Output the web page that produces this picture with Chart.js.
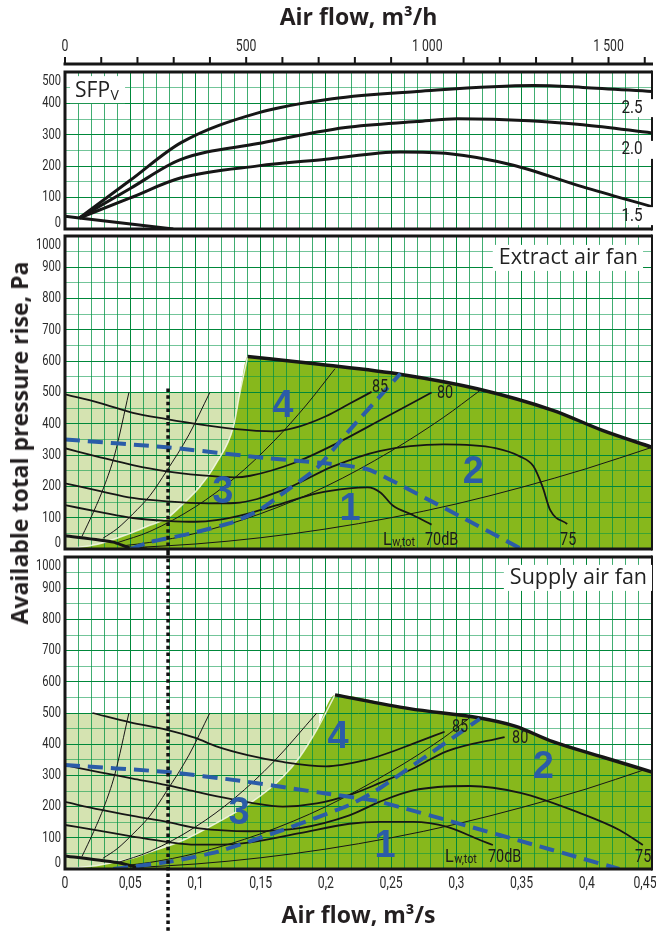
<!DOCTYPE html>
<html lang="en">
<head>
<meta charset="utf-8">
<title>Fan performance chart</title>
<script src="https://cdn.jsdelivr.net/npm/chart.js@4.4.1/dist/chart.umd.min.js"></script>
<style>
 html,body{margin:0;padding:0;background:#fff;}
 #wrap{position:relative;width:656px;height:931px;overflow:hidden;background:#fff;}
 #wrap canvas{position:absolute;left:0;}
 #ytitle{position:absolute;left:19px;top:443px;transform:translate(-50%,-50%) rotate(-90deg);white-space:nowrap;font:700 23px "Open Sans","Noto Sans",sans-serif;color:#231f20;}
</style>
</head>
<body>
<div id="wrap">
 <canvas id="cSfp" width="656" height="232" style="top:0px;width:656px;height:232px"></canvas>
 <canvas id="cExt" width="656" height="320" style="top:232px;width:656px;height:320px"></canvas>
 <canvas id="cSup" width="656" height="379" style="top:552px;width:656px;height:379px"></canvas>
 <div id="ytitle">Available total pressure rise, Pa</div>
</div>
<script>
// ---------------- axes / tick labels ----------------
const X_MAX = 0.45;                       // m3/s
const xTicksM3s  = [0,0.05,0.1,0.15,0.2,0.25,0.3,0.35,0.4,0.45];
const xLabelsM3s = ['0','0,05','0,1','0,15','0,2','0,25','0,3','0,35','0,4','0,45'];
const xTicksM3h  = [0,500,1000,1500];
const xLabelsM3h = ['0','500','1 000','1 500'];
const yTicksSfp  = [0,100,200,300,400,500];
const yTicksFan  = [0,100,200,300,400,500,600,700,800,900,1000];

// ---------------- SFPv panel (x m3/s, y Pa) ----------------
const sfpBase = [[0,41],[0.011,35],[0.083,0]];
const sfp15 = [[0.011,35],[0.05,99],[0.089,163],[0.148,201],[0.2,222],[0.257,245],[0.295,240],[0.343,204],[0.397,134],[0.45,71]];
const sfp20 = [[0.011,35],[0.05,129],[0.088,220],[0.148,272],[0.215,323],[0.27,342],[0.301,351],[0.356,345],[0.397,332],[0.45,306]];
const sfp25 = [[0.011,35],[0.05,155],[0.089,275],[0.148,370],[0.205,415],[0.27,438],[0.359,457],[0.397,451],[0.45,438]];

// ---------------- Extract air fan ----------------
const extMaxCurve = [[0.14,615],[0.195,590],[0.259,557],[0.316,512],[0.374,443],[0.412,379],[0.45,325]];
const extWorkEdge = [[0,0],[0.025,15],[0.05,50],[0.065,76],[0.078,98],[0.091,146],[0.103,197],[0.116,274],[0.129,389],[0.134,497],[0.14,615]];
const extLowRange = [[0,500],[0.134,500]];
const extBase = [[0,42],[0.037,22],[0.05,3],[0.063,0]];
const sysK1 = [[0.013,40],[0.022,120],[0.03,200],[0.038,300],[0.049,500]];
const sysK2 = [[0.029,34],[0.04,65],[0.052,112],[0.065,170],[0.078,250],[0.095,365],[0.111,500]];
const extSysK3 = [[0.04,20],[0.065,56],[0.1,135],[0.13,227],[0.16,344],[0.185,460],[0.207,576]];
const extSysK4 = [[0.046,11],[0.065,21],[0.1,50],[0.15,113],[0.2,200],[0.25,313],[0.29,420],[0.318,506]];
const extSysK5 = [[0.055,5],[0.1,16],[0.15,36],[0.2,64],[0.25,100],[0.3,144],[0.35,197],[0.4,257],[0.45,325]];
const extLw85 = [[0,494],[0.027,466],[0.052,435],[0.078,415],[0.103,398],[0.129,384],[0.16,376],[0.18,392],[0.2,424],[0.218,464],[0.235,502]];
const extLw80 = [[0,322],[0.027,293],[0.052,268],[0.078,248],[0.103,236],[0.13,229],[0.142,234],[0.175,274],[0.208,337],[0.244,417],[0.281,500]];
const extLw75 = [[0,210],[0.027,185],[0.052,163],[0.078,152],[0.11,146],[0.13,147],[0.167,188],[0.205,263],[0.241,313],[0.29,334],[0.33,322],[0.349,295],[0.359,265],[0.366,200],[0.372,124],[0.385,80]];
const extLw70 = [[0,140],[0.027,118],[0.052,99],[0.078,90],[0.1,87],[0.116,92],[0.142,115],[0.167,146],[0.193,178],[0.218,194],[0.232,197],[0.242,180],[0.251,140],[0.267,108],[0.281,78]];
const extLimitA = [[0,350],[0.078,325],[0.155,290],[0.2,274],[0.234,252],[0.35,0]];
const extLimitB = [[0.05,0],[0.065,22],[0.098,51],[0.129,86],[0.149,124],[0.167,178],[0.193,258],[0.218,379],[0.257,560]];

// ---------------- Supply air fan ----------------
const supMaxCurve = [[0.207,558],[0.264,514],[0.318,484],[0.345,458],[0.374,408],[0.412,359],[0.45,311]];
const supWorkEdge = [[0,0],[0.027,13],[0.052,35],[0.065,54],[0.091,93],[0.116,147],[0.142,211],[0.167,295],[0.18,359],[0.193,446],[0.207,558]];
const supLowRange = [[0,500],[0.195,500]];
const supBase = [[0,42],[0.042,19],[0.06,0]];
const supSysK3 = [[0.04,20],[0.065,56],[0.1,135],[0.13,227],[0.16,344],[0.193,500]];
const supSysK4 = [[0.046,11],[0.065,21],[0.1,50],[0.15,113],[0.2,200],[0.25,313],[0.29,420],[0.31,484]];
const supSysK5 = [[0.055,5],[0.1,16],[0.15,36],[0.2,64],[0.25,100],[0.3,144],[0.35,197],[0.4,257],[0.444,318]];
const supLw85 = [[0.021,500],[0.05,470],[0.078,446],[0.1,420],[0.116,393],[0.14,365],[0.167,343],[0.2,329],[0.231,350],[0.25,375],[0.267,402],[0.291,440]];
const supLw80 = [[0,333],[0.027,310],[0.052,290],[0.078,269],[0.1,248],[0.142,213],[0.167,200],[0.193,210],[0.22,240],[0.241,275],[0.267,322],[0.293,378],[0.337,423]];
const supLw75 = [[0,215],[0.027,190],[0.052,170],[0.078,151],[0.103,130],[0.142,121],[0.18,131],[0.218,172],[0.241,215],[0.267,252],[0.31,266],[0.349,244],[0.395,179],[0.425,125],[0.443,77]];
const supLw70 = [[0,141],[0.027,122],[0.052,104],[0.078,87],[0.1,78],[0.12,78],[0.142,85],[0.18,115],[0.218,145],[0.241,151],[0.267,151],[0.293,135],[0.318,93],[0.328,77]];
const supLimitA = [[0,333],[0.078,311],[0.134,283],[0.2,242],[0.241,216],[0.425,0]];
const supLimitB = [[0.037,0],[0.078,22],[0.116,54],[0.167,125],[0.218,205],[0.241,258],[0.318,481]];

// ---------------- annotations (data coordinates) ----------------
const dutyFlow = 0.079, dutyTopPa = 513;
const sfpNotes = [{t:'2.5',x:0.4347,y:385},{t:'2.0',x:0.4347,y:252},{t:'1.5',x:0.4347,y:41}];
const extZones = [{t:'4',x:0.167,y:454},{t:'3',x:0.121,y:182},{t:'1',x:0.2186,y:125},{t:'2',x:0.313,y:243}];
const supZones = [{t:'4',x:0.2094,y:420},{t:'3',x:0.1334,y:179},{t:'1',x:0.2454,y:71},{t:'2',x:0.3666,y:324}];
const extLwNotes = [{t:'85',x:0.2353,y:502},{t:'80',x:0.2852,y:482},{t:'70dB',x:0.276,y:13},{t:'75',x:0.3795,y:13}];
const supLwNotes = [{t:'85',x:0.2967,y:439},{t:'80',x:0.3427,y:404},{t:'70dB',x:0.3243,y:22},{t:'75',x:0.437,y:22}];
const extLwTot = {x:0.2438,y:13}, supLwTot = {x:0.2913,y:22};
const extTitle = {t:'Extract air fan',x:0.4393,y:930}, supTitle = {t:'Supply air fan',x:0.4462,y:933};

// ---------------- styling ----------------
const C_INK='#161616', C_BLUE='#2b5ca8', C_DARK='#87b81c', C_PALE='#d5e3b1';
const G_MAIN='rgb(0,135,58)', G_SOFT='rgba(0,145,65,0.75)', G_HALF='rgba(0,150,70,0.55)';
const F_NUM='"Roboto","Liberation Sans",sans-serif';
const F_TXT='"Open Sans","Noto Sans",sans-serif';
const F_BOLD='"Liberation Sans","Arimo",Arial,sans-serif';

const pts = a => a.map(p => ({x:p[0], y:p[1]}));
function ds(arr, o){
  return Object.assign({data:pts(arr), borderColor:C_INK, borderWidth:1.8, pointRadius:0, pointHoverRadius:0,
    fill:false, cubicInterpolationMode:'monotone', order:5, borderCapStyle:'butt', borderJoinStyle:'round'}, o||{});
}
const dashed = (arr) => ds(arr,{borderColor:C_BLUE, borderWidth:4, borderDash:[15,8], cubicInterpolationMode:'default', tension:0.15, order:1});
const thin = (arr) => ds(arr,{borderWidth:1, order:4});
const lw = (arr) => ds(arr,{borderWidth:1.8, order:3});
const fillDs = (arr, col, ord) => ds(arr,{borderColor:'rgba(0,0,0,0)', borderWidth:0, fill:'origin', backgroundColor:col, order:ord, cubicInterpolationMode:'monotone'});

function drawText(ctx, s, x, y, o){
  o = Object.assign({size:15, weight:'400', family:F_NUM, align:'center', base:'middle', sx:1, color:C_INK}, o||{});
  ctx.save(); ctx.translate(x,y); ctx.scale(o.sx,1);
  ctx.font = o.weight+' '+o.size+'px '+o.family;
  ctx.textAlign=o.align; ctx.textBaseline=o.base; ctx.fillStyle=o.color;
  ctx.fillText(s,0,0);
  const w = ctx.measureText(s).width*o.sx;
  ctx.restore();
  return w;
}
function textWidth(ctx, s, o){
  ctx.save(); ctx.font=(o.weight||'400')+' '+o.size+'px '+(o.family||F_NUM);
  const w = ctx.measureText(s).width*(o.sx||1); ctx.restore(); return w;
}
const clamp=(v,a,b)=>Math.max(a,Math.min(b,v));

function deco(opt){
  return {
    id:'deco',
    afterDraw(chart){
      const ctx=chart.ctx, a=chart.chartArea, xs=chart.scales.x, ys=chart.scales.y;
      const X=v=>xs.getPixelForValue(v), Y=v=>ys.getPixelForValue(v);
      ctx.save(); ctx.strokeStyle=C_INK; ctx.lineWidth=3;
      ctx.beginPath(); ctx.moveTo(a.right,a.top); ctx.lineTo(a.left,a.top); ctx.lineTo(a.left,a.bottom); ctx.lineTo(a.right,a.bottom); ctx.stroke();
      ctx.lineWidth=2; ctx.beginPath(); ctx.moveTo(a.right,a.top-1.5); ctx.lineTo(a.right,a.bottom+1.5); ctx.stroke();
      ctx.restore();
      opt.yTicks.forEach(v=>{
        drawText(ctx,String(v),61,clamp(Y(v),a.top+9,a.bottom-6),{size:15.5,sx:0.72,align:'right',color:'#2a2a2a'});
      });
      opt.extra(chart,ctx,a,X,Y);
    }
  };
}

function whiteBoxText(ctx, s, x, y, o, padL, padR, halfH){
  const w = textWidth(ctx,s,o);
  let left = o.align==='right' ? x-w : (o.align==='center'? x-w/2 : x);
  ctx.save(); ctx.fillStyle='#fff'; ctx.fillRect(left-padL, y-halfH, w+padL+padR, halfH*2); ctx.restore();
  drawText(ctx,s,x,y,o);
}

function dotted(ctx, x, y0, y1){
  ctx.save(); ctx.strokeStyle='#111'; ctx.lineWidth=3.5; ctx.setLineDash([3.5,3.2]);
  ctx.beginPath(); ctx.moveTo(x,y0); ctx.lineTo(x,y1); ctx.stroke(); ctx.restore();
}

function fanExtra(zones, notes, lwTot, title, dottedFromTop){
  return (chart,ctx,a,X,Y)=>{
    whiteBoxText(ctx,title.t,X(title.x),Y(title.y),{size:21.5,family:F_TXT,align:'right',color:'#222'},6,5,13);
    zones.forEach(z=>drawText(ctx,z.t,X(z.x),Y(z.y),{size:38,weight:'700',family:F_BOLD,color:C_BLUE}));
    notes.forEach(n=>drawText(ctx,n.t,X(n.x),Y(n.y),{size:18,sx:0.8,align:'left',base:'alphabetic',color:'#1c1c1c'}));
    const lx=X(lwTot.x), ly=Y(lwTot.y);
    const wL=drawText(ctx,'L',lx,ly,{size:19,sx:0.85,align:'left',base:'alphabetic',color:'#1c1c1c'});
    drawText(ctx,'w,tot',lx+wL+0.5,ly+1,{size:12,sx:0.9,align:'left',base:'alphabetic',color:'#1c1c1c'});
    const dx=X(dutyFlow);
    dotted(ctx,dx,dottedFromTop?0:Y(dutyTopPa),chart.height);
  };
}

function makePanel(id, o){
  return new Chart(document.getElementById(id),{
    type:'line',
    data:{datasets:o.datasets},
    options:{
      responsive:false, animation:false, devicePixelRatio:1, events:[],
      layout:{padding:{left:65,right:4,top:o.padTop,bottom:o.padBottom}},
      plugins:{legend:{display:false},tooltip:{enabled:false},filler:{propagate:false,drawTime:'beforeDraw'}},
      scales:{
        x:{type:'linear',min:0,max:X_MAX,
           ticks:{display:false,stepSize:0.01,autoSkip:false},
           grid:{drawTicks:false,
                 color:c=>{const k=Math.round(c.tick.value*100); return k%5===0?G_MAIN:G_SOFT;},
                 lineWidth:1},
           border:{display:false}, afterFit:s=>{s.height=0;}},
        y:{type:'linear',min:0,max:o.yMax,
           ticks:{display:false,stepSize:50},
           grid:{drawTicks:false,
                 color:c=>(Math.round(c.tick.value)%100===0?G_MAIN:G_HALF),
                 lineWidth:1},
           border:{display:false}, afterFit:s=>{s.width=0;}}
      }
    },
    plugins:[deco(o)]
  });
}

// ---------- SFP panel ----------
makePanel('cSfp',{
  yMax:500, padTop:72, padBottom:3, yTicks:yTicksSfp,
  datasets:[
    ds(sfp25,{borderWidth:3}), ds(sfp20,{borderWidth:3}), ds(sfp15,{borderWidth:3}),
    ds(sfpBase,{borderWidth:3,cubicInterpolationMode:'default',tension:0})
  ],
  extra:(chart,ctx,a,X,Y)=>{
    drawText(ctx,'Air flow, m³/h',(a.left+a.right)/2,18,{size:23,weight:'700',family:F_TXT,color:'#231f20'});
    const axY=64;
    ctx.save(); ctx.strokeStyle=C_INK; ctx.lineWidth=3;
    ctx.beginPath(); ctx.moveTo(a.left-1.5,axY); ctx.lineTo(a.right+1,axY); ctx.stroke();
    ctx.lineWidth=2;
    for(let h=0; h<=1600; h+=100){ const px=X(h/3600); ctx.beginPath(); ctx.moveTo(px,axY); ctx.lineTo(px,axY-7); ctx.stroke(); }
    ctx.restore();
    xTicksM3h.forEach((h,i)=>drawText(ctx,xLabelsM3h[i],X(h/3600),47,{size:17,sx:0.72,color:'#2a2a2a'}));
    const sx=X(0.0077), sy=Y(420);
    ctx.save(); ctx.fillStyle='#fff'; ctx.fillRect(sx-5,sy-21,55,27); ctx.restore();
    const w=drawText(ctx,'SFP',sx,sy,{size:21,family:F_TXT,align:'left',base:'alphabetic',color:'#222'});
    drawText(ctx,'V',sx+w+0.5,sy+3,{size:14,family:F_TXT,align:'left',base:'alphabetic',color:'#222'});
    sfpNotes.forEach(n=>whiteBoxText(ctx,n.t,X(n.x),Y(n.y),{size:18,sx:0.85,color:'#1c1c1c'},3,3,9));
  }
});

// ---------- Extract panel ----------
makePanel('cExt',{
  yMax:1000, padTop:4, padBottom:3, yTicks:yTicksFan,
  datasets:[
    dashed(extLimitA), dashed(extLimitB),
    ds(extMaxCurve,{borderWidth:3.5,order:2}),
    lw(extLw85), lw(extLw80), lw(extLw75), lw(extLw70),
    thin(sysK1), thin(sysK2), thin(extSysK3), thin(extSysK4), thin(extSysK5),
    ds(extBase,{borderWidth:3,cubicInterpolationMode:'default',tension:0.2,order:4}),
    ds(extWorkEdge,{borderColor:'rgba(245,250,235,0.85)',borderWidth:1.5,order:50}),
    fillDs(extWorkEdge.concat(extMaxCurve.slice(1)),C_DARK,100),
    fillDs(extLowRange,C_PALE,101)
  ],
  extra:fanExtra(extZones,extLwNotes,extLwTot,extTitle,false)
});

// ---------- Supply panel ----------
makePanel('cSup',{
  yMax:1000, padTop:5, padBottom:62, yTicks:yTicksFan,
  datasets:[
    dashed(supLimitA), dashed(supLimitB),
    ds(supMaxCurve,{borderWidth:3.5,order:2}),
    lw(supLw85), lw(supLw80), lw(supLw75), lw(supLw70),
    thin(sysK1), thin(sysK2), thin(supSysK3), thin(supSysK4), thin(supSysK5),
    ds(supBase,{borderWidth:3,cubicInterpolationMode:'default',tension:0.2,order:4}),
    ds(supWorkEdge,{borderColor:'rgba(245,250,235,0.85)',borderWidth:1.5,order:50}),
    fillDs(supWorkEdge.concat(supMaxCurve.slice(1)),C_DARK,100),
    fillDs(supLowRange,C_PALE,101)
  ],
  extra:(chart,ctx,a,X,Y)=>{
    fanExtra(supZones,supLwNotes,supLwTot,supTitle,true)(chart,ctx,a,X,Y);
    xTicksM3s.forEach((v,i)=>drawText(ctx,xLabelsM3s[i],Math.min(X(v),a.right-7),a.bottom+15,{size:17,sx:0.72,color:'#2a2a2a'}));
    drawText(ctx,'Air flow, m³/s',(a.left+a.right)/2,a.bottom+47,{size:23,weight:'700',family:F_TXT,color:'#231f20'});
  }
});
</script>
</body>
</html>
